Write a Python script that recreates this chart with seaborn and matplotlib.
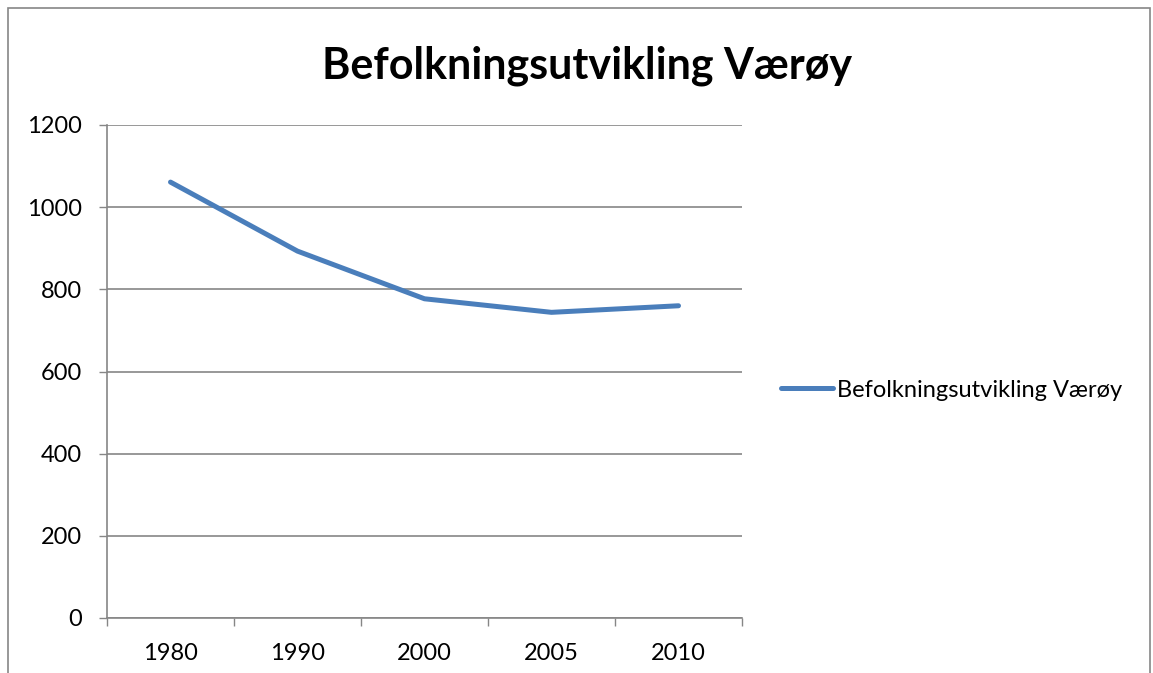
import numpy as np
import pandas as pd
import matplotlib
matplotlib.use('Agg')
import matplotlib.pyplot as plt
import seaborn as sns
from matplotlib.patches import Rectangle

# Data
years = ['1980', '1990', '2000', '2005', '2010']
population = [1061, 893, 777, 744, 760]
series_name = 'Befolkningsutvikling Værøy'
y_ticks = [0, 200, 400, 600, 800, 1000, 1200]

df = pd.DataFrame({'year': years, 'pop': population, 'serie': series_name})

sns.set_style('white')
plt.rcParams['font.family'] = ['Lato', 'DejaVu Sans']
plt.rcParams['text.color'] = 'black'
plt.rcParams['xtick.color'] = 'black'
plt.rcParams['ytick.color'] = 'black'

fig = plt.figure(figsize=(11.53, 6.73), dpi=100)
ax = fig.add_axes([107 / 1153, 1 - 618 / 673, (742 - 107) / 1153, (618 - 125) / 673])

# Outer chart border (Excel style)
fig.patches.append(Rectangle((8 / 1153, -0.01), (1150 - 8) / 1153, 1 - 8 / 673 + 0.01,
                             transform=fig.transFigure, fill=False,
                             edgecolor='#868686', linewidth=1.2))

sns.lineplot(data=df, x='year', y='pop', hue='serie', palette=['#4A7EBB'],
             linewidth=3.6, ax=ax, sort=False)

ax.set_xlim(-0.5, len(years) - 0.5)
ax.set_ylim(0, 1200)
ax.set_yticks(y_ticks)
ax.set_yticklabels([str(v) for v in y_ticks], fontsize=17)

# ticks between categories, labels at centres
ax.set_xticks(np.arange(-0.5, len(years), 1.0))
ax.set_xticklabels([])
ax.set_xticks(np.arange(len(years)), minor=True)
ax.set_xticklabels(years, minor=True, fontsize=17)
ax.tick_params(axis='x', which='major', length=6, color='#868686', width=1)
ax.tick_params(axis='x', which='minor', length=0, pad=18)
ax.tick_params(axis='y', length=6, color='#868686', width=1, pad=12)
ax.tick_params(axis='y', direction='out', left=True)
ax.tick_params(axis='x', direction='out', bottom=True)

ax.grid(axis='y', color='#868686', linewidth=1.2)
ax.set_axisbelow(True)
for side in ['top', 'right']:
    ax.spines[side].set_visible(False)
for side in ['left', 'bottom']:
    ax.spines[side].set_color('#868686')
    ax.spines[side].set_linewidth(1.2)

ax.set_xlabel('')
ax.set_ylabel('')

fig.text(587 / 1153, 1 - 66 / 673, 'Befolkningsutvikling Værøy', ha='center', va='center',
         fontsize=31, fontweight='bold')

leg = ax.legend(loc='center left', bbox_to_anchor=(760 / 1153, 1 - 390 / 673),
                bbox_transform=fig.transFigure, frameon=False, fontsize=17,
                handlelength=2.2, handletextpad=0.15)
for line in leg.get_lines():
    line.set_linewidth(3.6)

plt.savefig('out.png', dpi=100, facecolor='white')
